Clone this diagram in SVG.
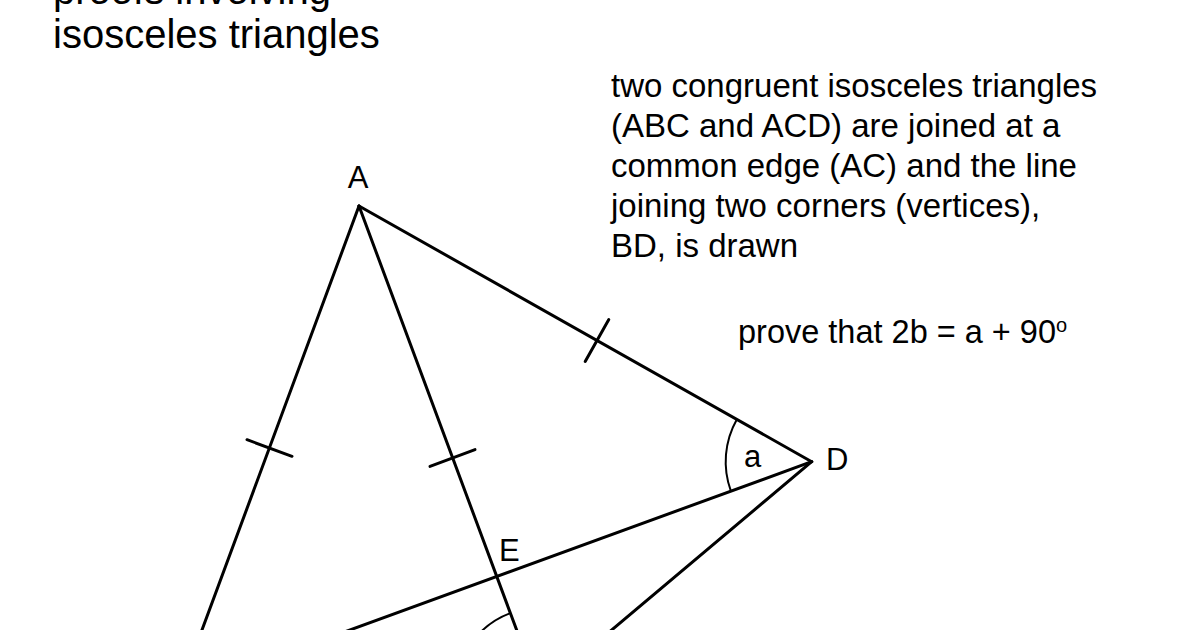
<svg xmlns="http://www.w3.org/2000/svg" width="1200" height="630" viewBox="0 0 1200 630">
<style>
.t{font-family:"Liberation Sans",Arial,sans-serif;fill:#000}
.ln{stroke:#000;stroke-width:3;fill:none;stroke-linecap:round}
.arc{stroke:#000;stroke-width:2;fill:none}
</style>
<rect width="1200" height="630" fill="#fff"/>
<g id="title">
<text class="t" x="53" y="4" font-size="40">proofs involving</text>
<text class="t" x="53" y="48" font-size="40">isosceles triangles</text>
</g>
<g id="description" class="t" font-size="33">
<text x="611" y="97">two congruent isosceles triangles</text>
<text x="611" y="137">(ABC and ACD) are joined at a</text>
<text x="611" y="177">common edge (AC) and the line</text>
<text x="611" y="217">joining two corners (vertices),</text>
<text x="611" y="257">BD, is drawn</text>
</g>
<g id="task">
<text class="t" x="738" y="343" font-size="32.5">prove that 2b = a + 90<tspan font-size="20" dy="-11">o</tspan></text>
</g>
<g id="edges">
<line class="ln" x1="359" y1="206" x2="178.9" y2="692.3"/>
<line class="ln" x1="359" y1="206" x2="539.3" y2="690.9"/>
<line class="ln" x1="359" y1="206" x2="811.7" y2="461.7"/>
<line class="ln" x1="811.7" y1="461.7" x2="178.9" y2="692.3"/>
<line class="ln" x1="811.7" y1="461.7" x2="539.3" y2="690.9"/>
</g>
<g id="ticks">
<line class="ln" x1="247" y1="439.7" x2="292" y2="456.3"/>
<line class="ln" x1="430" y1="466.4" x2="475" y2="449.6"/>
<line class="ln" x1="585.2" y1="361.4" x2="608.8" y2="319.6"/>
</g>
<g id="angles">
<path class="arc" d="M736.8 419.4 A86 86 0 0 0 730.9 491.2"/>
<path class="arc" d="M510.4 613.1 A83 83 0 0 0 456.3 690.9"/>
</g>
<g id="labels" class="t" font-size="31">
<text x="358" y="188" text-anchor="middle">A</text>
<text x="826" y="470">D</text>
<text x="499" y="561">E</text>
<text x="744" y="467">a</text>
</g>
</svg>
